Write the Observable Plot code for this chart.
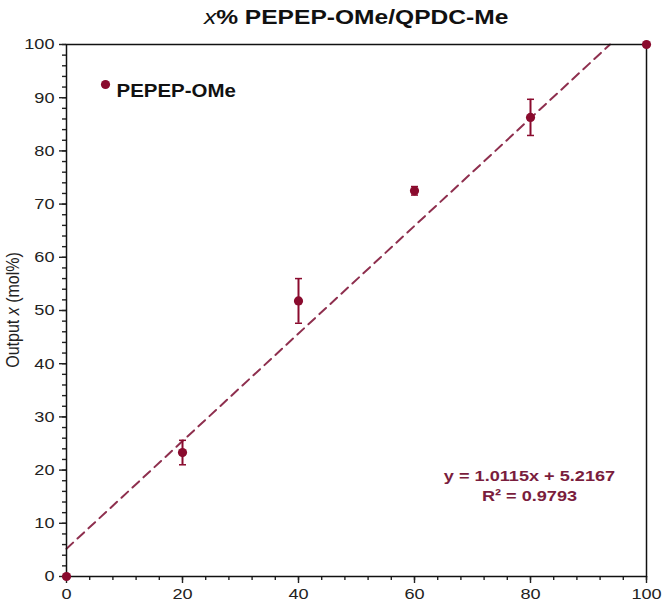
<!DOCTYPE html>
<html>
<head>
<meta charset="utf-8">
<script src="https://cdn.jsdelivr.net/npm/d3@7"></script>
<script src="https://cdn.jsdelivr.net/npm/@observablehq/plot@0.6"></script>
<style>
  body { margin: 0; background: #fff; font-family: Arial, "Liberation Sans", Helvetica, sans-serif; }
  #title { height: 34px; width: 580px; padding-left: 66px; text-align: center; font-weight: bold; font-size: 21px; line-height: 34px; color: #111; }
  #title span { display: inline-block; transform: scaleX(1.17); }
</style>
</head>
<body>
<div id="title"><span><i style="font-weight:normal">x</i>% PEPEP-OMe/QPDC-Me</span></div>
<div id="chart"></div>
<script>
// Data
const inputX = [0, 20, 40, 60, 80, 100];
const outputY = [0, 23.3, 51.8, 72.5, 86.3, 100];
const errorY = [0, 2.3, 4.2, 0.8, 3.4, 0];
const seriesName = "PEPEP-OMe";
const fitSlope = 1.0115;
const fitIntercept = 5.2167;
const fitLabel = ["y = 1.0115x + 5.2167", "R\u00b2 = 0.9793"];
const xMajorTicks = [0, 20, 40, 60, 80, 100];
const yMajorTicks = [0, 10, 20, 30, 40, 50, 60, 70, 80, 90, 100];
const xMinorTicks = d3.range(0, 101, 4);
const yMinorTicks = d3.range(0, 101, 2);

const points = inputX.map((x, i) => ({x, y: outputY[i], err: errorY[i]}));
const bars = points.filter(d => d.err > 0);
const fitLine = [0, (100 - fitIntercept) / fitSlope].map(x => ({x, y: fitSlope * x + fitIntercept}));

const pointColor = "#8a0b2e";
const lineColor = "#8e2f4e";
const textColor = "#7a1d3d";
const textStretch = 1.17;
const capSymbol = { draw(ctx, size) { const r = Math.sqrt(size / Math.PI); ctx.moveTo(-r, 0); ctx.lineTo(r, 0); } };

const H = 573, MT = 10, MB = 31;
const plot = Plot.plot({
  width: 662,
  height: H,
  marginLeft: 66,
  marginRight: 16,
  marginTop: MT,
  marginBottom: MB,
  style: { fontFamily: "Arial, 'Liberation Sans', Helvetica, sans-serif", fontSize: "15.5px", color: "#222", background: "#fff" },
  x: { domain: [0, 100] },
  y: { domain: [0, 100] },
  marks: [
    Plot.axisX({ ticks: xMinorTicks, tickSize: 4, text: null, label: null, strokeWidth: 1.4 }),
    Plot.axisX({ ticks: xMajorTicks, tickSize: 7, tickPadding: 4, label: null, fontSize: 15.5, strokeWidth: 1.4 }),
    Plot.axisY({ ticks: yMinorTicks, tickSize: 4, text: null, label: null, strokeWidth: 1.4 }),
    Plot.axisY({ ticks: yMajorTicks, tickSize: 7, tickPadding: 5, label: null, fontSize: 15.5, strokeWidth: 1.4 }),
    Plot.line(fitLine, { x: "x", y: "y", stroke: lineColor, strokeWidth: 2, strokeDasharray: "9,6" }),
    Plot.frame({ stroke: "#111", strokeWidth: 1.5 }),
    Plot.ruleX(bars, { x: "x", y1: d => d.y - d.err, y2: d => d.y + d.err, stroke: pointColor, strokeWidth: 2 }),
    Plot.dot(bars, { x: "x", y: d => d.y - d.err, symbol: capSymbol, r: 3.5, stroke: pointColor, strokeWidth: 1.5 }),
    Plot.dot(bars, { x: "x", y: d => d.y + d.err, symbol: capSymbol, r: 3.5, stroke: pointColor, strokeWidth: 1.5 }),
    Plot.dot(points, { x: "x", y: "y", r: 4.6, fill: pointColor, stroke: null }),
    Plot.dot([seriesName], { frameAnchor: "top-left", dx: 39, dy: 40, r: 4.6, fill: pointColor }),
    Plot.text([seriesName], { frameAnchor: "top-left", dx: 50, dy: 40, text: d => d, textAnchor: "start", fontWeight: "bold", fontSize: 17.5, fill: "#111" }),
    Plot.text([fitLabel[0]], { frameAnchor: "bottom-right", dx: -117, dy: -96, text: d => d, textAnchor: "middle", fontWeight: "bold", fontSize: 15.5, fill: textColor }),
    Plot.text([fitLabel[1]], { frameAnchor: "bottom-right", dx: -117, dy: -76, text: d => d, textAnchor: "middle", fontWeight: "bold", fontSize: 15.5, fill: textColor })
  ]
});

// widen glyphs horizontally around their anchor, as in the reference
d3.select(plot).selectAll("text").each(function () {
  let x = parseFloat(this.getAttribute("x"));
  if (!isFinite(x) || /em/.test(this.getAttribute("x") || "")) x = 0;
  const t = this.getAttribute("transform") || "";
  this.setAttribute("transform", `${t} translate(${x},0) scale(${textStretch},1) translate(${-x},0)`.trim());
});

// y-axis label with italic x
const svg = d3.select(plot);
const lbl = svg.append("text")
  .attr("transform", "translate(19," + (MT + (H - MT - MB) / 2) + ") rotate(-90) scale(1,1.17)")
  .attr("text-anchor", "middle")
  .attr("font-size", 16)
  .attr("fill", "#222");
lbl.append("tspan").text("Output ");
lbl.append("tspan").attr("font-style", "italic").text("x");
lbl.append("tspan").text(" (mol%)");

document.getElementById("chart").appendChild(plot);
</script>
</body>
</html>
